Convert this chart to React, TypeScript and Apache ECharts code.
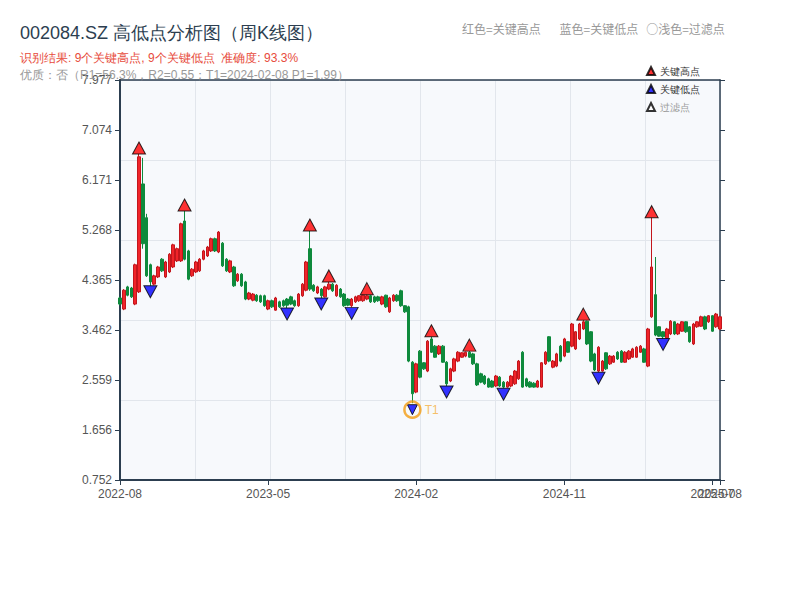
import React, { useEffect, useRef } from 'react';
import * as echarts from 'echarts';

const TITLE = '002084.SZ 高低点分析图（周K线图）';
const SUMMARY = '识别结果: 9个关键高点, 9个关键低点  准确度: 93.3%';
const QUALITY = '优质：否（R1=56.3%，R2=0.55；T1=2024-02-08 P1=1.99）';
const NOTE = '红色=关键高点       蓝色=关键低点   ○浅色=过滤点';

const Y_MIN = 0.75245;
const Y_MAX = 7.977;

const X_TICKS = [0, 39, 78, 117, 156];
const X_TICK_LABELS = ['2022-08', '2023-05', '2024-02', '2024-11', '2025-07'];
const X_LAST_TICK = 158;
const X_LAST_LABEL = '2025-08';

const OPEN = [
  4.04, 3.84, 4.24, 4.22, 3.93, 4.15, 6.10, 5.49, 4.64, 4.29,
  4.42, 4.74, 4.42, 4.51, 4.60, 4.71, 4.71, 5.43, 4.89, 4.44,
  4.51, 4.53, 4.74, 4.80, 4.89, 5.11, 4.87, 5.03, 4.74, 4.51,
  4.60, 4.35, 4.47, 4.33, 4.02, 4.00, 4.09, 4.08, 4.08, 3.84,
  3.99, 3.82, 3.97, 3.99, 4.02, 4.06, 3.99, 3.90, 4.08, 4.18,
  4.93, 4.27, 4.13, 4.20, 4.06, 4.20, 4.29, 4.08, 4.20, 4.11,
  4.02, 3.90, 3.97, 3.99, 3.99, 4.02, 4.08, 4.06, 4.06, 3.93,
  4.09, 3.79, 3.99, 4.09, 4.17, 3.90, 3.88, 2.88, 2.34, 3.08,
  2.87, 2.72, 3.30, 3.17, 3.03, 3.17, 2.88, 2.54, 2.72, 2.90,
  2.97, 2.99, 3.06, 3.03, 2.85, 2.67, 2.63, 2.58, 2.54, 2.45,
  2.61, 2.52, 2.43, 2.45, 2.49, 2.58, 3.06, 2.58, 2.52, 2.50,
  2.43, 2.43, 2.85, 3.34, 2.79, 2.81, 3.17, 2.99, 3.25, 3.17,
  3.12, 3.30, 3.48, 3.62, 3.43, 3.03, 2.72, 2.72, 3.05, 2.85,
  2.88, 3.06, 3.08, 2.88, 2.94, 2.97, 2.97, 3.06, 3.12, 2.81,
  3.70, 4.10, 3.52, 3.43, 3.32, 3.39, 3.61, 3.39, 3.44, 3.61,
  3.52, 3.21, 3.52, 3.53, 3.70, 3.61, 3.72, 3.52, 3.48,
];
const CLOSE = [
  3.93, 4.18, 4.09, 4.06, 4.64, 6.59, 5.02, 4.44, 4.33, 4.44,
  4.60, 4.53, 4.69, 4.83, 5.00, 4.93, 5.38, 4.74, 4.38, 4.56,
  4.69, 4.74, 4.89, 4.96, 5.11, 4.89, 5.23, 4.62, 4.53, 4.71,
  4.26, 4.47, 4.26, 4.02, 4.13, 4.11, 3.99, 3.97, 3.90, 3.99,
  3.88, 4.04, 3.88, 3.90, 3.91, 3.93, 3.90, 4.11, 4.29, 4.69,
  4.20, 4.17, 4.24, 4.08, 4.24, 4.29, 4.17, 4.27, 4.06, 3.90,
  3.91, 4.02, 4.06, 4.08, 4.09, 4.08, 3.97, 3.97, 3.99, 4.06,
  3.88, 4.04, 4.09, 3.99, 3.90, 3.79, 2.90, 2.31, 2.85, 2.61,
  2.76, 3.26, 3.06, 2.97, 3.17, 2.88, 2.49, 2.76, 2.94, 3.06,
  3.05, 3.06, 2.97, 2.85, 2.47, 2.52, 2.49, 2.43, 2.43, 2.63,
  2.45, 2.43, 2.52, 2.63, 2.72, 2.90, 2.43, 2.45, 2.43, 2.43,
  2.54, 2.87, 3.06, 2.90, 2.90, 3.03, 2.90, 3.30, 3.06, 3.57,
  3.43, 3.57, 3.61, 3.21, 2.90, 2.74, 3.15, 2.90, 2.76, 2.99,
  2.99, 2.94, 2.88, 3.06, 3.08, 3.12, 3.15, 3.17, 2.88, 3.48,
  4.60, 3.37, 3.35, 3.34, 3.48, 3.62, 3.39, 3.57, 3.61, 3.43,
  3.25, 3.57, 3.61, 3.70, 3.48, 3.72, 3.44, 3.75, 3.70,
];
const LOW = [
  3.91, 3.82, 4.07, 4.04, 3.91, 4.13, 4.93, 4.42, 4.26, 4.27,
  4.40, 4.51, 4.40, 4.49, 4.58, 4.69, 4.69, 4.72, 4.36, 4.42,
  4.49, 4.51, 4.72, 4.78, 4.87, 4.87, 4.85, 4.60, 4.51, 4.49,
  4.24, 4.33, 4.24, 4.00, 4.00, 3.98, 3.97, 3.95, 3.88, 3.82,
  3.86, 3.81, 3.86, 3.88, 3.86, 3.91, 3.88, 3.88, 4.06, 4.16,
  4.17, 4.15, 4.11, 4.04, 4.05, 4.18, 4.15, 4.06, 4.04, 3.88,
  3.89, 3.87, 3.95, 3.97, 3.97, 4.00, 3.95, 3.95, 3.97, 3.91,
  3.86, 3.77, 3.97, 3.97, 3.88, 3.77, 2.88, 2.14, 2.32, 2.59,
  2.74, 2.70, 3.05, 2.96, 3.01, 2.87, 2.45, 2.52, 2.70, 2.88,
  2.96, 2.97, 2.96, 2.83, 2.45, 2.50, 2.47, 2.42, 2.42, 2.43,
  2.43, 2.41, 2.42, 2.43, 2.47, 2.56, 2.42, 2.43, 2.42, 2.42,
  2.42, 2.42, 2.83, 2.88, 2.77, 2.79, 2.88, 2.97, 3.05, 3.15,
  3.10, 3.28, 3.46, 3.19, 2.88, 2.72, 2.70, 2.71, 2.74, 2.83,
  2.87, 2.92, 2.87, 2.87, 2.92, 2.96, 2.96, 3.05, 2.87, 2.79,
  3.68, 3.35, 3.34, 3.31, 3.31, 3.37, 3.37, 3.37, 3.43, 3.41,
  3.23, 3.19, 3.50, 3.52, 3.46, 3.59, 3.43, 3.50, 3.46,
];
const HIGH = [
  4.06, 4.20, 4.26, 4.24, 4.66, 6.64, 6.57, 5.56, 4.66, 4.46,
  4.62, 4.76, 4.71, 4.85, 5.02, 4.95, 5.40, 5.61, 4.91, 4.58,
  4.71, 4.76, 4.91, 4.98, 5.13, 5.13, 5.25, 5.05, 4.76, 4.73,
  4.62, 4.49, 4.49, 4.35, 4.15, 4.13, 4.11, 4.10, 4.10, 4.01,
  4.01, 4.06, 3.99, 4.01, 4.04, 4.08, 4.01, 4.13, 4.31, 4.71,
  5.25, 4.29, 4.26, 4.22, 4.26, 4.33, 4.31, 4.29, 4.22, 4.13,
  4.04, 4.04, 4.08, 4.09, 4.10, 4.10, 4.09, 4.08, 4.08, 4.08,
  4.10, 4.06, 4.11, 4.11, 4.19, 3.91, 3.90, 2.90, 2.87, 3.10,
  2.88, 3.28, 3.34, 3.19, 3.19, 3.19, 2.90, 2.78, 2.96, 3.08,
  3.06, 3.07, 3.08, 3.05, 2.87, 2.69, 2.65, 2.60, 2.56, 2.65,
  2.63, 2.54, 2.54, 2.65, 2.74, 2.92, 3.08, 2.60, 2.54, 2.52,
  2.56, 2.88, 3.08, 3.35, 2.92, 3.05, 3.19, 3.32, 3.26, 3.59,
  3.44, 3.59, 3.64, 3.63, 3.44, 3.05, 3.17, 2.92, 3.06, 3.01,
  3.01, 3.08, 3.10, 3.08, 3.10, 3.14, 3.17, 3.19, 3.14, 3.50,
  5.49, 4.78, 3.53, 3.44, 3.50, 3.64, 3.62, 3.59, 3.62, 3.62,
  3.53, 3.59, 3.62, 3.72, 3.72, 3.73, 3.73, 3.77, 3.72,
];

const KEY_HIGH_IDX = [5, 17, 50, 55, 65, 82, 92, 122, 140];
const KEY_HIGH_VAL = [6.64, 5.61, 5.25, 4.33, 4.10, 3.34, 3.08, 3.64, 5.49];
const KEY_LOW_IDX = [8, 44, 53, 61, 77, 86, 101, 126, 143];
const KEY_LOW_VAL = [4.26, 3.86, 4.04, 3.87, 2.14, 2.45, 2.41, 2.70, 3.31];
const T1_IDX = 77;

const DATES = OPEN.map((_, i) =>
  new Date(Date.UTC(2022, 7, 5) + i * 7 * 86400000).toISOString().slice(0, 10)
);

const AXIS_COLOR = '#2c3e50';
const SPLIT_COLOR = '#e2e6ec';

export default function App() {
  const ref = useRef<HTMLDivElement>(null);
  useEffect(() => {
    if (!ref.current) return;
    const chart = echarts.init(ref.current, undefined, { renderer: 'svg' });
    const yStep = (Y_MAX - Y_MIN) / 8;
    const tickFn = (idx: number) => X_TICKS.indexOf(idx) >= 0;
    const lastFn = (idx: number) => idx === X_LAST_TICK;
    const t1Val = KEY_LOW_VAL[KEY_LOW_IDX.indexOf(T1_IDX)];
    chart.setOption({
      animation: false,
      backgroundColor: '#ffffff',
      title: [
        { text: TITLE, left: 20, top: 24, padding: 0, textStyle: { fontSize: 18, fontWeight: 'normal', color: '#2c3e50' } },
        { text: SUMMARY, left: 20, top: 52, padding: 0, textStyle: { fontSize: 12, fontWeight: 'normal', color: '#e74c3c' } },
        { text: QUALITY, left: 20, top: 69, padding: 0, textStyle: { fontSize: 12, fontWeight: 'normal', color: '#999999' } },
        {
          text: NOTE, left: 462, top: 22, padding: 0,
          textStyle: { fontSize: 12, fontWeight: 'normal', color: '#999999', fontFamily: "'Noto Sans CJK SC', sans-serif" },
        },
      ],
      legend: {
        orient: 'vertical',
        left: 646,
        top: 66,
        padding: 0,
        itemGap: 8,
        itemWidth: 8,
        itemHeight: 8,
        textStyle: { fontSize: 10, color: '#333333' },
        data: [
          { name: '关键高点' },
          { name: '关键低点' },
          { name: '过滤点', textStyle: { color: '#999999' } },
        ],
      },
      grid: { left: 120, right: 80, top: 80, bottom: 120, show: true, backgroundColor: '#f7f9fc', borderWidth: 0 },
      xAxis: [
        {
          type: 'category',
          data: DATES,
          boundaryGap: false,
          axisLine: { lineStyle: { color: AXIS_COLOR, width: 2 } },
          axisTick: { show: true, interval: tickFn, length: 5, lineStyle: { color: AXIS_COLOR } },
          axisLabel: {
            interval: tickFn,
            color: '#555555',
            fontSize: 12,
            margin: 8,
            formatter: (_v: string, idx: number) => {
              const k = X_TICKS.indexOf(idx);
              return k >= 0 ? X_TICK_LABELS[k] : '';
            },
          },
          splitLine: { show: false },
        },
        {
          type: 'value',
          min: 0,
          max: 8,
          interval: 1,
          position: 'top',
          axisLine: { show: true, lineStyle: { color: AXIS_COLOR, width: 1.5 } },
          axisTick: { show: false },
          axisLabel: { show: false },
          splitLine: { show: true, lineStyle: { color: SPLIT_COLOR, width: 1 } },
        },
        {
          type: 'category',
          data: DATES,
          boundaryGap: false,
          position: 'bottom',
          axisLine: { show: false },
          axisTick: { show: true, interval: lastFn, length: 5, lineStyle: { color: AXIS_COLOR } },
          axisLabel: {
            interval: lastFn,
            color: '#555555',
            fontSize: 12,
            margin: 8,
            formatter: (_v: string, idx: number) => (idx === X_LAST_TICK ? X_LAST_LABEL : ''),
          },
          splitLine: { show: false },
        },
      ],
      yAxis: [
        {
          type: 'value',
          min: Y_MIN,
          max: Y_MAX,
          interval: yStep,
          position: 'left',
          axisLine: { show: true, lineStyle: { color: AXIS_COLOR, width: 2 } },
          axisTick: { show: true, length: 5, lineStyle: { color: AXIS_COLOR } },
          axisLabel: { color: '#555555', fontSize: 12, margin: 8, formatter: (v: number) => v.toFixed(3) },
          splitLine: { show: false },
        },
        {
          type: 'value',
          min: Y_MIN,
          max: Y_MAX,
          interval: yStep,
          position: 'right',
          axisLine: { show: true, lineStyle: { color: AXIS_COLOR, width: 1.5 } },
          axisTick: { show: true, length: 5, lineStyle: { color: AXIS_COLOR } },
          axisLabel: { show: false },
          splitLine: { show: false },
        },
        {
          type: 'value',
          min: 0,
          max: 5,
          interval: 1,
          position: 'right',
          axisLine: { show: false },
          axisTick: { show: false },
          axisLabel: { show: false },
          splitLine: { show: true, lineStyle: { color: SPLIT_COLOR, width: 1 } },
        },
      ],
      series: [
        {
          name: 'K线',
          type: 'candlestick',
          xAxisIndex: 0,
          yAxisIndex: 0,
          barWidth: 3,
          data: OPEN.map((o, i) => [o, CLOSE[i], LOW[i], HIGH[i]]),
          itemStyle: {
            color: '#f0242a',
            color0: '#0e8a3c',
            borderColor: '#c3161c',
            borderColor0: '#0e8a3c',
            borderWidth: 1,
          },
        },
        {
          name: '关键高点',
          type: 'scatter',
          xAxisIndex: 0,
          yAxisIndex: 0,
          symbol: 'triangle',
          symbolSize: [13, 12],
          symbolOffset: [0, -6],
          itemStyle: { color: '#ff0000', borderColor: '#000000', borderWidth: 1 },
          data: KEY_HIGH_IDX.map((i, k) => [i, KEY_HIGH_VAL[k]]),
          z: 5,
        },
        {
          name: '关键低点',
          type: 'scatter',
          xAxisIndex: 0,
          yAxisIndex: 0,
          symbol: 'triangle',
          symbolRotate: 180,
          symbolSize: [13, 12],
          symbolOffset: [0, 6],
          itemStyle: { color: '#0000ff', borderColor: '#000000', borderWidth: 1 },
          data: KEY_LOW_IDX.map((i, k) =>
            i === T1_IDX
              ? { value: [i, KEY_LOW_VAL[k]], symbolSize: [10, 10], symbolOffset: [0, 6.5] }
              : { value: [i, KEY_LOW_VAL[k]] }
          ),
          z: 5,
        },
        {
          name: '过滤点',
          type: 'scatter',
          xAxisIndex: 0,
          yAxisIndex: 0,
          symbol: 'triangle',
          symbolSize: 8,
          itemStyle: { color: '#ffffff', borderColor: '#000000', borderWidth: 1 },
          data: [],
        },
        {
          name: 'T1',
          type: 'scatter',
          xAxisIndex: 0,
          yAxisIndex: 0,
          symbol: 'circle',
          symbolSize: 16,
          symbolOffset: [0, 6.5],
          itemStyle: { color: 'rgba(0,0,0,0)', borderColor: '#f39c12', borderWidth: 2.5 },
          label: { show: true, position: 'right', distance: 3, formatter: 'T1', color: '#f5b041', fontSize: 12 },
          data: [[T1_IDX, t1Val]],
          z: 6,
        },
      ],
    });
    return () => chart.dispose();
  }, []);
  return <div ref={ref} style={{ position: 'absolute', left: 0, top: 0, width: 800, height: 600 }} />;
}
